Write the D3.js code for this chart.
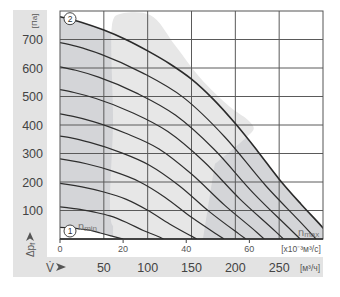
<!DOCTYPE html>
<html><head><meta charset="utf-8">
<script src="https://cdn.jsdelivr.net/npm/d3@7"></script>
<style>body{margin:0;background:#fff}svg{display:block;font-family:"Liberation Sans",Arial,sans-serif}</style>
</head><body><svg id="c" width="340" height="297"></svg>
<script>
// ---- data ----
const flowTicksM3h = [50, 100, 150, 200, 250];
const flowTicksLs = [0, 20, 40, 60];
const pressureTicks = [100, 200, 300, 400, 500, 600, 700];
// fan curves: [flow m3/h, pressure Pa]
const nMax = [[0,780],[25,760],[50,733],[75,700],[100,660],[125,615],[150,561],[175,490],[200,405],[225,310],[250,210],[275,122],[300,39],[311,0]];
const n9 = [[0,689],[19,676],[47,648],[94,583],[141,496],[188,358],[235,186],[282,34],[292,0]];
const n8 = [[0,604],[18,592],[44,568],[88,511],[132,434],[176,314],[220,163],[264,30],[274,0]];
const n7 = [[0,524],[16,514],[41,493],[82,444],[123,377],[164,272],[205,141],[246,26],[255,0]];
const n6 = [[0,439],[15,430],[38,412],[75,371],[113,316],[150,228],[188,118],[225,22],[233,0]];
const n5 = [[0,361],[14,354],[34,339],[68,305],[102,259],[136,187],[170,97],[204,18],[212,0]];
const n4 = [[0,281],[12,275],[30,264],[60,238],[90,202],[120,146],[150,76],[180,14],[187,0]];
const n3 = [[0,195],[10,191],[25,183],[50,165],[75,140],[100,101],[125,53],[150,10],[156,0]];
const n2 = [[0,113],[8,110],[19,106],[38,95],[57,81],[76,58],[95,30],[114,6],[118,0]];
const nMin = [[0,41],[5,40],[12,39],[23,35],[35,30],[46,21],[58,11],[69,2],[72,0]];
const midCurves = [n9, n8, n7, n6, n5, n4, n3, n2];
// light operating zones outline [flow m3/h, Pa]
const bandZone = [[60.5,768],[65,786],[102.7,786],[131,681],[160,565],[194,463],[214,418],[221,389],[214,361],[148,196],[103,112],[68,53],[60.5,46],[60.5,418]];
const lowZone = [[60.5,84],[156,312],[177,270],[163,0],[60.5,0]];

// ---- layout ----
const L = 60, R = 323, T = 11, B = 239;
const svg = d3.select("#c");
const x = d3.scaleLinear().domain([0, 300]).range([L, R]);
const xLs = d3.scaleLinear().domain([0, 300 / 3.6]).range([L, R]);
const y = d3.scaleLinear().domain([0, 800]).range([B, T]);

// side panels
svg.append("rect").attr("x", 13).attr("y", 10).attr("width", 34).attr("height", 267).attr("fill", "#e3e3e3");
svg.append("rect").attr("x", 13).attr("y", 257).attr("width", 310).attr("height", 20).attr("fill", "#e3e3e3");

const area = d3.area().x(d => x(d[0])).y0(y(0)).y1(d => y(d[1])).curve(d3.curveMonotoneX);
const line = d3.line().x(d => x(d[0])).y(d => y(d[1])).curve(d3.curveMonotoneX);
const closed = d3.line().x(d => x(d[0])).y(d => y(d[1])).curve(d3.curveCatmullRomClosed.alpha(0.5));
const lin = d3.line().x(d => x(d[0])).y(d => y(d[1])).curve(d3.curveLinearClosed);

const defs = svg.append("defs");
defs.append("clipPath").attr("id", "pc")
  .append("rect").attr("x", L).attr("y", T).attr("width", R - L).attr("height", B - T);
defs.append("clipPath").attr("id", "nm").append("path").attr("d", area(nMax));

const g = svg.append("g").attr("clip-path", "url(#pc)");

g.append("path").attr("d", area(nMax)).attr("fill", "#d4d5d8");
g.append("path").attr("d", closed(bandZone)).attr("fill", "#e7e7e7");
g.append("g").attr("clip-path", "url(#nm)")
  .append("path").attr("d", lin(lowZone)).attr("fill", "#e7e7e7");
g.append("path").attr("d", area(nMin)).attr("fill", "#fff");

// grid
const gridC = "#5a5a5a";
g.selectAll(".vg").data(flowTicksM3h).join("line")
  .attr("x1", d => x(d)).attr("x2", d => x(d)).attr("y1", T).attr("y2", B)
  .attr("stroke", gridC).attr("stroke-width", 1);
g.selectAll(".hg").data(pressureTicks).join("line")
  .attr("x1", L).attr("x2", R).attr("y1", d => y(d)).attr("y2", d => y(d))
  .attr("stroke", gridC).attr("stroke-width", 1);

// curves
g.selectAll(".cv").data(midCurves).join("path")
  .attr("d", line).attr("fill", "none").attr("stroke", "#2e2e2e").attr("stroke-width", 1.2);
g.append("path").attr("d", line(nMax)).attr("fill", "none").attr("stroke", "#2a2a2a").attr("stroke-width", 1.6);
g.append("path").attr("d", line(nMin)).attr("fill", "none").attr("stroke", "#2e2e2e").attr("stroke-width", 1.2);

// frame
svg.append("rect").attr("x", L).attr("y", T).attr("width", R - L).attr("height", B - T)
  .attr("fill", "none").attr("stroke", "#555").attr("stroke-width", 1);
svg.append("line").attr("x1", L).attr("x2", R).attr("y1", B).attr("y2", B).attr("stroke", "#222").attr("stroke-width", 1.5);

// l/s ticks
svg.selectAll(".lt").data(flowTicksLs).join("line")
  .attr("x1", d => xLs(d)).attr("x2", d => xLs(d)).attr("y1", B).attr("y2", B + 4)
  .attr("stroke", "#444").attr("stroke-width", 1);
svg.selectAll(".ll").data(flowTicksLs).join("text")
  .attr("x", d => xLs(d)).attr("y", 252).attr("text-anchor", "middle")
  .attr("font-size", 9).attr("fill", "#555").text(d => d);
svg.append("text").attr("x", 301).attr("y", 252).attr("text-anchor", "middle")
  .attr("font-size", 8.5).attr("fill", "#555").text("[x10⁻³м³/с]");

// m3/h labels
svg.selectAll(".ml").data(flowTicksM3h).join("text")
  .attr("x", d => x(d)).attr("y", 272).attr("text-anchor", "middle")
  .attr("font-size", 12.5).attr("fill", "#444").text(d => d);
svg.append("text").attr("x", 310).attr("y", 271).attr("text-anchor", "middle")
  .attr("font-size", 8.5).attr("fill", "#555").text("[м³/ч]");
svg.append("text").attr("x", 46).attr("y", 272).attr("font-size", 12).attr("fill", "#555").text("V\u0307");
svg.append("path").attr("d", "M56,263 L66,267 L56,271 L58.5,267 Z").attr("fill", "#555");

// pressure labels
svg.selectAll(".pl").data(pressureTicks).join("text")
  .attr("x", 43).attr("y", d => y(d)).attr("dy", "0.36em").attr("text-anchor", "end")
  .attr("font-size", 12.5).attr("fill", "#444").text(d => d);
svg.append("text").attr("transform", "translate(37,21) rotate(-90)").attr("text-anchor", "middle")
  .attr("font-size", 8).attr("fill", "#555").text("[Па]");
svg.append("path").attr("d", "M30,232 L34,241 L30,238.5 L26,241 Z").attr("fill", "#555");
const dp = svg.append("text").attr("transform", "translate(34,250) rotate(-90)").attr("text-anchor", "middle")
  .attr("font-size", 10).attr("fill", "#555");
dp.append("tspan").text("Δp");
dp.append("tspan").attr("font-size", 7).attr("dy", 1).text("f");

// markers
function marker(cx, cy, t) {
  svg.append("circle").attr("cx", cx).attr("cy", cy).attr("r", 6).attr("fill", "#fff").attr("stroke", "#444").attr("stroke-width", 1);
  svg.append("text").attr("x", cx).attr("y", cy).attr("dy", "0.35em").attr("text-anchor", "middle")
    .attr("font-size", 8.5).attr("fill", "#333").text(t);
}
marker(70, y(nMax[0][1]) + 2, "2");
marker(70, 231, "1");
const nm = svg.append("text").attr("x", 78).attr("y", 230).attr("font-size", 11).attr("fill", "#777");
nm.append("tspan").text("n");
nm.append("tspan").attr("font-size", 8).attr("dy", 1).text("min");
const nx = svg.append("text").attr("x", 298).attr("y", 236).attr("font-size", 11).attr("fill", "#777");
nx.append("tspan").text("n");
nx.append("tspan").attr("font-size", 8).attr("dy", 1).text("max");
</script>
</body></html>
